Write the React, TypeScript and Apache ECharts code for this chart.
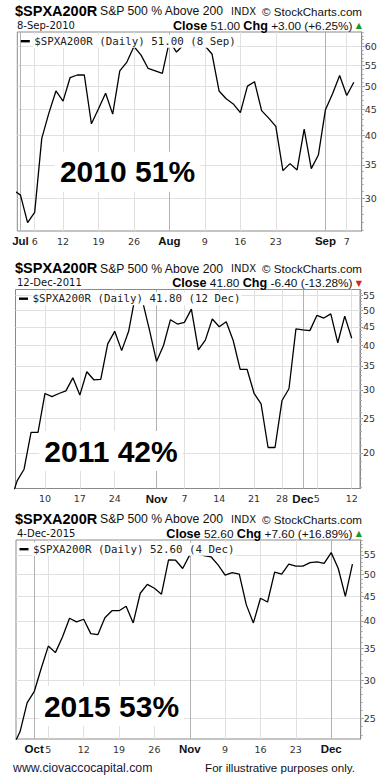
import React, { useEffect, useRef } from "react";
import * as echarts from "echarts";

// ---------- DATA ----------
const dates2010 = ["6/30","7/1","7/2","7/6","7/7","7/8","7/9","7/12","7/13","7/14","7/15","7/16","7/19","7/20","7/21","7/22","7/23","7/26","7/27","7/28","7/29","7/30","8/2","8/3","8/4","8/5","8/6","8/9","8/10","8/11","8/12","8/13","8/16","8/17","8/18","8/19","8/20","8/23","8/24","8/25","8/26","8/27","8/30","8/31","9/1","9/2","9/3","9/7","9/8"];
const values2010 = [31.2,30.5,26.9,28.2,39.5,44.3,49.0,46.8,52.1,52.7,52.7,42.2,45.2,48.5,44.1,53.7,55.9,60.0,57.7,54.3,53.7,53.1,61.5,58.5,60.5,60.0,60.0,60.2,58.0,49.0,47.3,46.2,44.4,50.1,51.1,44.8,43.3,41.7,34.1,35.2,34.2,41.2,34.4,36.6,45.0,48.4,52.6,48.0,51.0];
const weekTicks2010 = [["7/6","6"],["7/12","12"],["7/19","19"],["7/26","26"],["8/9","9"],["8/16","16"],["8/23","23"],["9/7","7"]];
const monthTicks2010 = [["7/1","Jul"],["8/2","Aug"],["9/1","Sep"]];
const yTicks2010 = [30,35,40,45,50,55,60];

const dates2011 = ["10/3","10/4","10/5","10/6","10/7","10/10","10/11","10/12","10/13","10/14","10/17","10/18","10/19","10/20","10/21","10/24","10/25","10/26","10/27","10/28","10/31","11/1","11/2","11/3","11/4","11/7","11/8","11/9","11/10","11/11","11/14","11/15","11/16","11/17","11/18","11/21","11/22","11/23","11/25","11/28","11/29","11/30","12/1","12/2","12/5","12/6","12/7","12/8","12/9","12/12"];
const values2011 = [14.5,16.7,18.0,22.8,22.8,29.3,28.7,29.3,29.8,32.4,29.0,33.7,32.0,32.1,40.3,43.7,38.6,43.7,55.5,53.0,44.0,36.0,39.9,47.1,45.8,46.3,50.4,38.8,41.3,47.3,45.0,46.5,41.2,34.2,34.2,29.3,27.4,20.7,20.7,28.0,30.2,44.4,44.1,43.9,48.4,47.6,48.9,40.6,48.2,41.8];
const weekTicks2011 = [["10/10","10"],["10/17","17"],["10/24","24"],["11/7","7"],["11/14","14"],["11/21","21"],["11/28","28"],["12/5","5"],["12/12","12"]];
const monthTicks2011 = [["11/1","Nov"],["12/1","Dec"]];
const yTicks2011 = [20,25,30,35,40,45,50,55];

const dates2015 = ["9/28","9/29","9/30","10/1","10/2","10/5","10/6","10/7","10/8","10/9","10/12","10/13","10/14","10/15","10/16","10/19","10/20","10/21","10/22","10/23","10/26","10/27","10/28","10/29","10/30","11/2","11/3","11/4","11/5","11/6","11/9","11/10","11/11","11/12","11/13","11/16","11/17","11/18","11/19","11/20","11/23","11/24","11/25","11/27","11/30","12/1","12/2","12/3","12/4"];
const values2015 = [21.8,23.4,26.9,28.4,31.8,35.4,34.3,37.0,40.5,39.8,40.3,37.6,37.4,40.6,42.0,42.0,42.9,39.6,45.7,47.7,46.8,45.5,53.7,53.6,51.5,55.0,55.3,54.8,54.5,52.4,49.9,50.5,50.1,43.2,39.6,44.6,43.8,50.6,50.1,52.6,52.1,52.1,53.0,53.2,52.8,55.6,51.5,45.0,52.6];
const weekTicks2015 = [["10/5","5"],["10/12","12"],["10/19","19"],["10/26","26"],["11/9","9"],["11/16","16"],["11/23","23"]];
const monthTicks2015 = [["10/1","Oct"],["11/2","Nov"],["12/1","Dec"]];
const yTicks2015 = [25,30,35,40,45,50,55];

const PANELS = [
  { dates: dates2010, values: values2010, weekTicks: weekTicks2010, monthTicks: monthTicks2010, yTicks: yTicks2010,
    xMin: 0.55, xMax: 49.11, yMin: 25.9, yMax: 64.1,
    date: "8-Sep-2010", close: "51.00", chg: "+3.00 (+6.25%)", up: true, legend: "$SPXA200R (Daily) 51.00 (8 Sep)", big: "2010 51%" },
  { dates: dates2011, values: values2011, weekTicks: weekTicks2011, monthTicks: monthTicks2011, yTicks: yTicks2011,
    xMin: 0.77, xMax: 50.19, yMin: 15.9, yMax: 57.2,
    date: "12-Dec-2011", close: "41.80", chg: "-6.40 (-13.28%)", up: false, legend: "$SPXA200R (Daily) 41.80 (12 Dec)", big: "2011 42%" },
  { dates: dates2015, values: values2015, weekTicks: weekTicks2015, monthTicks: monthTicks2015, yTicks: yTicks2015,
    xMin: 0.43, xMax: 49.17, yMin: 22.6, yMax: 59.1,
    date: "4-Dec-2015", close: "52.60", chg: "+7.60 (+16.89%)", up: true, legend: "$SPXA200R (Daily) 52.60 (4 Dec)", big: "2015 53%" },
];

// ---------- LAYOUT ----------
const LAYOUT = [
  { left: 17.3, top: 32, width: 344.4, height: 199, bigX: 127.5, bigY: 171.7 },
  { left: 15.5, top: 289.5, width: 344.5, height: 199, bigX: 111, bigY: 451 },
  { left: 16, top: 540, width: 344.7, height: 199, bigX: 111.5, bigY: 706 },
];

const SANS = "Liberation Sans";
const VERD = "DejaVu Sans";

function buildOption() {
  const grid: any[] = [];
  const xAxis: any[] = [];
  const yAxis: any[] = [];
  const series: any[] = [];
  const graphic: any[] = [];

  PANELS.forEach((p, k) => {
    const L = LAYOUT[k];
    grid.push({ left: L.left, top: L.top, width: L.width, height: L.height, show: true, borderColor: "#8a8a8a", borderWidth: 1, backgroundColor: "#fff", containLabel: false });
    const idx = (d: string) => p.dates.indexOf(d);
    const weekVals = p.weekTicks.map((t) => idx(t[0]));
    const weekMap: Record<number, string> = {};
    p.weekTicks.forEach((t) => (weekMap[idx(t[0])] = t[1]));
    const monthVals = p.monthTicks.map((t) => idx(t[0]));
    const monthMap: Record<number, string> = {};
    p.monthTicks.forEach((t) => (monthMap[idx(t[0])] = t[1]));

    xAxis.push({
      type: "value", gridIndex: k, position: "bottom", min: p.xMin, max: p.xMax,
      axisLine: { show: false },
      axisTick: { show: false, customValues: weekVals },
      axisLabel: { customValues: weekVals, formatter: (v: number) => weekMap[Math.round(v)] ?? "", margin: 5, fontSize: 9.5, fontFamily: VERD, color: "#333" },
      splitLine: { show: true, lineStyle: { color: "#e0e0e0", width: 1 } },
    });
    xAxis.push({
      type: "value", gridIndex: k, position: "bottom", min: p.xMin, max: p.xMax,
      axisLine: { show: false },
      axisTick: { show: false, customValues: monthVals },
      axisLabel: {
        customValues: monthVals, formatter: (v: number) => `{m|${monthMap[Math.round(v)] ?? ""}}`, margin: 4,
        rich: { m: { fontSize: 11.5, fontWeight: "bold", fontFamily: SANS, color: "#111" } },
      },
      splitLine: { show: true, lineStyle: { color: "#b2b2b2", width: 1 } },
    });

    const yT = p.yTicks.map((v) => Math.log(v));
    const minor: number[] = [];
    for (let v = Math.ceil(p.yMin); v <= Math.floor(p.yMax); v++) minor.push(Math.log(v));
    yAxis.push({
      type: "value", gridIndex: k, position: "right", min: Math.log(p.yMin), max: Math.log(p.yMax),
      axisLine: { show: true, lineStyle: { color: "#8a8a8a" } },
      axisTick: { show: true, length: 3, customValues: yT, lineStyle: { color: "#888" } },
      axisLabel: { customValues: yT, formatter: (v: number) => String(Math.round(Math.exp(v))), margin: 3, fontSize: 9.5, fontFamily: VERD, color: "#333" },
      splitLine: { show: true, lineStyle: { color: "#e0e0e0", width: 1 } },
    });
    yAxis.push({
      type: "value", gridIndex: k, position: "right", min: Math.log(p.yMin), max: Math.log(p.yMax),
      axisLine: { show: false },
      axisTick: { show: true, length: 2, customValues: minor, lineStyle: { color: "#aaa" } },
      axisLabel: { show: false },
      splitLine: { show: false },
    });

    series.push({
      type: "line", xAxisIndex: 2 * k, yAxisIndex: 2 * k,
      data: p.values.map((v, i) => [i, Math.log(v)]),
      showSymbol: false, symbol: "none", clip: true, silent: true, z: 3,
      lineStyle: { color: "#000", width: 1.3 },
    });

    const T = L.top;
    // title row
    graphic.push({ type: "text", z: 100, style: { text: "$SPXA200R", x: 15, y: T - 21.5, fontSize: 14.5, fontWeight: "bold", fontFamily: SANS, fill: "#000", textVerticalAlign: "middle", lineHeight: 12 } });
    graphic.push({ type: "text", z: 100, style: { text: "S&P 500 % Above 200", x: 100, y: T - 21, fontSize: 12.2, fontFamily: SANS, fill: "#111", textVerticalAlign: "middle", lineHeight: 11 } });
    graphic.push({ type: "text", z: 100, style: { text: "INDX", x: 231, y: T - 21, fontSize: 10, fontFamily: VERD, fill: "#111", textVerticalAlign: "middle", lineHeight: 10 } });
    graphic.push({ type: "text", z: 100, style: { text: "© StockCharts.com", x: 362, y: T - 21, fontSize: 11.6, fontFamily: SANS, fill: "#111", textAlign: "right", textVerticalAlign: "middle", lineHeight: 11 } });
    // second row
    graphic.push({ type: "text", z: 100, style: { text: p.date, x: 17, y: T - 7, fontSize: 10, fontFamily: VERD, fill: "#111", textVerticalAlign: "middle", lineHeight: 10 } });
    graphic.push({
      type: "text", z: 100,
      style: {
        text: `{b|Close} {r|${p.close}} {b|Chg} {r|${p.chg}} {t|${p.up ? "▲" : "▼"}}`,
        x: 362, y: T - 6.5, textAlign: "right", textVerticalAlign: "middle",
        rich: {
          b: { fontSize: 12.6, fontWeight: "bold", fontFamily: SANS, fill: "#000", lineHeight: 10 },
          r: { fontSize: 11.8, fontFamily: SANS, fill: "#111", lineHeight: 10 },
          t: { fontSize: 8, fontFamily: VERD, fill: p.up ? "#1a9a1a" : "#d42020", lineHeight: 10 },
        },
      },
    });
    // legend in plot
    graphic.push({ type: "rect", z: 100, shape: { x: L.left + 3.5, y: T + 8, width: 9, height: 2.4 }, style: { fill: "#000" } });
    graphic.push({ type: "text", z: 100, style: { text: p.legend, x: L.left + 16, y: T + 9.2, fontSize: 10.8, fontFamily: "DejaVu Sans Mono", fill: "#222", textVerticalAlign: "middle", backgroundColor: "#fff", padding: [1, 1] } });
    // big label
    graphic.push({ type: "text", z: 100, style: { text: p.big, x: L.bigX, y: L.bigY, fontSize: 30, fontWeight: "bold", fontFamily: SANS, fill: "#000", textAlign: "center", textVerticalAlign: "middle", backgroundColor: "#fff", padding: [5, 5] } });
  });

  graphic.push({ type: "text", z: 100, style: { text: "www.ciovaccocapital.com", x: 13, y: 767.5, fontSize: 12.3, fontFamily: SANS, fill: "#1a1a40", textVerticalAlign: "middle" } });
  graphic.push({ type: "text", z: 100, style: { text: "For illustrative purposes only.", x: 355, y: 767.5, fontSize: 11.6, fontFamily: SANS, fill: "#111", textAlign: "right", textVerticalAlign: "middle" } });

  return { animation: false, backgroundColor: "#fff", grid, xAxis, yAxis, series, graphic };
}

export default function App() {
  const ref = useRef<HTMLDivElement>(null);
  useEffect(() => {
    document.body.style.margin = "0";
    const chart = echarts.init(ref.current!, null, { renderer: "svg" });
    chart.setOption(buildOption() as any);
    return () => chart.dispose();
  }, []);
  return <div ref={ref} style={{ width: 390, height: 780, background: "#fff" }} />;
}
